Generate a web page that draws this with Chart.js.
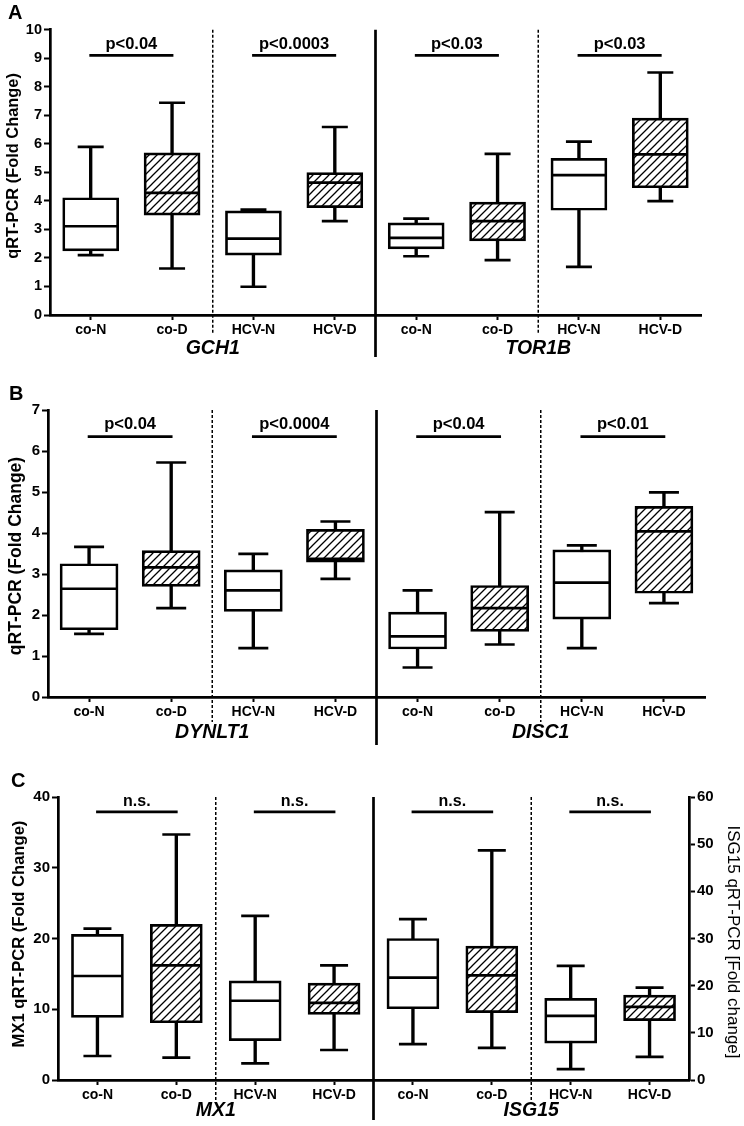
<!DOCTYPE html>
<html>
<head>
<meta charset="utf-8">
<script src="https://cdn.jsdelivr.net/npm/chart.js@4"></script>
<style>
  body { margin: 0; background: #fff; }
  #wrap { position: relative; width: 744px; height: 1126px; background: #fff; }
  canvas { position: absolute; left: 0; }
</style>
</head>
<body>
<div id="wrap">
  <canvas id="cA" width="744" height="362" style="top:0;width:744px;height:362px"></canvas>
  <canvas id="cB" width="744" height="388" style="top:362px;width:744px;height:388px"></canvas>
  <canvas id="cC" width="744" height="376" style="top:750px;width:744px;height:376px"></canvas>
</div>
<script>
// groups on the x axis, repeated for each gene
const groups = ['co-N', 'co-D', 'HCV-N', 'HCV-D'];

// [min, Q1, median, Q3, max] for co-N, co-D, HCV-N, HCV-D
const GCH1 = [[2.10, 2.25, 3.11, 4.11, 5.89], [1.63, 3.50, 4.28, 5.68, 7.44], [0.99, 2.10, 2.68, 3.65, 3.69], [3.29, 3.76, 4.64, 4.99, 6.59]];
const TOR1B = [[2.06, 2.32, 2.70, 3.23, 3.38], [1.92, 2.60, 3.29, 3.96, 5.65], [1.69, 3.67, 4.90, 5.49, 6.08], [3.99, 4.46, 5.63, 6.90, 8.50]];
const DYNLT1 = [[1.54, 1.64, 2.64, 3.25, 3.66], [2.17, 2.70, 3.16, 3.57, 5.72], [1.19, 2.09, 2.60, 3.10, 3.49], [2.88, 3.29, 3.37, 4.09, 4.28]];
const DISC1 = [[0.72, 1.17, 1.48, 2.07, 2.60], [1.28, 1.60, 2.17, 2.72, 4.51], [1.19, 1.90, 2.79, 3.59, 3.70], [2.29, 2.53, 4.04, 4.65, 4.99]];
const MX1 = [[3.39, 8.85, 14.7, 20.6, 21.4], [3.15, 8.09, 16.2, 22.0, 34.7], [2.35, 5.55, 11.2, 14.0, 23.2], [4.24, 9.27, 10.9, 13.7, 16.2]];
const ISG15 = [[7.6, 15.1, 21.7, 30.0, 34.1], [6.8, 14.3, 22.2, 28.4, 48.7], [2.3, 7.8, 13.6, 17.3, 24.2], [4.9, 12.6, 15.5, 18.0, 19.6]];

// significance labels per pair and the height of their bars
const pA = ['p<0.04', 'p<0.0003', 'p<0.03', 'p<0.03'];
const pB = ['p<0.04', 'p<0.0004', 'p<0.04', 'p<0.01'];
const pC = ['n.s.', 'n.s.', 'n.s.', 'n.s.'];
const sigA = 9.1, sigB = 6.35, sigC = 37.9;

const FONT = '"Liberation Sans", Arial, Helvetica, sans-serif';
const LW = 2.7;
Chart.defaults.font.family = FONT;
Chart.defaults.color = '#000';

function hatch(canvasId) {
    let tile = document.createElement('canvas');
    tile.width = 8; tile.height = 8;
    let g = tile.getContext('2d');
    g.fillStyle = '#fff';
    g.fillRect(0, 0, 8, 8);
    g.strokeStyle = '#000';
    g.lineWidth = 1.3;
    g.beginPath();
    g.moveTo(-1, 9); g.lineTo(9, -1);
    g.moveTo(-1, 1); g.lineTo(1, -1);
    g.moveTo(7, 9); g.lineTo(9, 7);
    g.stroke();
    return document.getElementById(canvasId).getContext('2d').createPattern(tile, 'repeat');
}

// datasets for one gene (4 boxes), placed on the left or right half of the axis
function geneSets(stats, right, axis, pattern, box, cap) {
    const pad = v => right ? [null, null, null, null].concat(v) : v.concat([null, null, null, null]);
    const pts = (vals, r) => ({
        type: 'line', data: pad(vals), yAxisID: axis, showLine: false,
        pointStyle: 'line', pointRadius: r, pointHoverRadius: r,
        pointBorderColor: '#000', pointBorderWidth: LW, borderColor: '#000', order: 1
    });
    return [
        { type: 'bar', data: pad(stats.map(s => [s[0], s[4]])), yAxisID: axis, grouped: false,
          barThickness: LW, backgroundColor: '#000', borderWidth: 0, order: 3 },
        { type: 'bar', data: pad(stats.map(s => [s[1], s[3]])), yAxisID: axis, grouped: false,
          barThickness: box, backgroundColor: pad(groups.map((g, i) => i % 2 ? pattern : '#fff')),
          borderColor: '#000', borderWidth: LW, borderSkipped: false, order: 2 },
        pts(stats.map(s => s[2]), box / 2 - 1),
        pts(stats.map(s => s[0]), cap),
        pts(stats.map(s => s[4]), cap)
    ];
}

function sigSet(level) {
    return {
        type: 'line', data: groups.concat(groups).map(() => level), yAxisID: 'y',
        borderColor: '#000', borderWidth: LW, borderCapStyle: 'square', pointRadius: 0,
        segment: { borderColor: c => c.p0DataIndex % 2 ? 'rgba(0,0,0,0)' : '#000' }, order: 0
    };
}

const panelPlugin = {
    id: 'panel',
    afterDraw(chart, args, o) {
        const ctx = chart.ctx, x = chart.scales.x, area = chart.chartArea;
        const edge = i => (x.getPixelForValue(i - 1) + x.getPixelForValue(i)) / 2;
        ctx.save();
        ctx.strokeStyle = '#000';
        ctx.fillStyle = '#000';

        ctx.lineWidth = 1.5;
        ctx.setLineDash([3, 2]);
        [2, 6].forEach(i => {
            ctx.beginPath();
            ctx.moveTo(edge(i), area.top);
            ctx.lineTo(edge(i), area.bottom + o.dashDrop);
            ctx.stroke();
        });
        ctx.setLineDash([]);
        ctx.lineWidth = LW;
        ctx.beginPath();
        ctx.moveTo(edge(4), area.top);
        ctx.lineTo(edge(4), area.bottom + o.solidDrop);
        ctx.stroke();

        ctx.textBaseline = 'alphabetic';
        ctx.textAlign = 'left';
        ctx.font = 'bold 20px ' + FONT;
        ctx.fillText(o.letter, o.letterX, o.letterY);

        ctx.textAlign = 'center';
        ctx.textBaseline = 'middle';
        ctx.font = 'italic bold 19.5px ' + FONT;
        ctx.fillText(o.genes[0], edge(2), area.bottom + o.geneDrop);
        ctx.fillText(o.genes[1], edge(6), area.bottom + o.geneDrop);

        ctx.font = 'bold ' + o.pSize + 'px ' + FONT;
        const py = chart.scales.y.getPixelForValue(o.sig) - o.pGap;
        o.pLabels.forEach((t, k) => {
            const xm = (x.getPixelForValue(2 * k) + x.getPixelForValue(2 * k + 1)) / 2;
            ctx.fillText(t, xm, py);
        });

        o.titles.forEach(t => {
            ctx.save();
            ctx.translate(t.x, t.y);
            ctx.rotate(t.rot);
            ctx.font = t.weight + ' ' + t.size + 'px ' + FONT;
            ctx.fillText(t.text, 0, 0);
            ctx.restore();
        });
        ctx.restore();
    }
};

function yAxis(max, step, size, width, position) {
    return {
        type: 'linear', position: position, min: 0, max: max,
        afterFit: s => { s.width = width; },
        ticks: { stepSize: step, font: { size: size, weight: 'bold' }, color: '#000', padding: 2 },
        grid: { drawOnChartArea: false, drawTicks: true, tickLength: 6, tickWidth: 2, tickColor: '#000' },
        border: { display: true, width: LW, color: '#000' }
    };
}

function makeChart(id, sets, scales, padding, xHeight, xSize, panel) {
    return new Chart(document.getElementById(id), {
        type: 'bar',
        data: { labels: groups.concat(groups), datasets: sets },
        options: {
            responsive: false,
            animation: false,
            events: [],
            layout: { padding: padding },
            plugins: { legend: { display: false }, tooltip: { enabled: false }, panel: panel },
            scales: Object.assign({
                x: {
                    type: 'category', offset: true,
                    afterFit: s => { s.height = xHeight; },
                    ticks: { font: { size: xSize, weight: 'bold' }, color: '#000', padding: 2, maxRotation: 0, autoSkip: false },
                    grid: { offset: false, drawOnChartArea: false, drawTicks: true, tickLength: 5, tickWidth: 2, tickColor: '#000' },
                    border: { display: true, width: LW, color: '#000' }
                }
            }, scales)
        },
        plugins: [panelPlugin]
    });
}

// panel A
const hA = hatch('cA');
let chartA = makeChart('cA',
    geneSets(GCH1, false, 'y', hA, 56, 13).concat(geneSets(TOR1B, true, 'y', hA, 56, 13), [sigSet(sigA)]),
    { y: yAxis(10, 1, 14.5, 50, 'left') },
    { top: 29, right: 43, left: 0, bottom: 0 }, 47, 14,
    { letter: 'A', letterX: 8, letterY: 19, genes: ['GCH1', 'TOR1B'], pLabels: pA, sig: sigA, pSize: 16.5, pGap: 11,
      dashDrop: 18, solidDrop: 42, geneDrop: 34,
      titles: [{ text: 'qRT-PCR (Fold Change)', x: 13, y: 166, rot: -Math.PI / 2, size: 16.4, weight: 'bold' }] });

// panel B
const hB = hatch('cB');
let chartB = makeChart('cB',
    geneSets(DYNLT1, false, 'y', hB, 58, 15).concat(geneSets(DISC1, true, 'y', hB, 58, 15), [sigSet(sigB)]),
    { y: yAxis(7, 1, 15, 48, 'left') },
    { top: 48, right: 39, left: 0, bottom: 0 }, 53, 14,
    { letter: 'B', letterX: 9, letterY: 38, genes: ['DYNLT1', 'DISC1'], pLabels: pB, sig: sigB, pSize: 16.5, pGap: 12,
      dashDrop: 25, solidDrop: 48, geneDrop: 36,
      titles: [{ text: 'qRT-PCR (Fold Change)', x: 16, y: 194, rot: -Math.PI / 2, size: 17.5, weight: 'bold' }] });

// panel C, two y axes
const hC = hatch('cC');
let chartC = makeChart('cC',
    geneSets(MX1, false, 'y', hC, 52, 14).concat(geneSets(ISG15, true, 'y2', hC, 52, 14), [sigSet(sigC)]),
    { y: yAxis(40, 10, 15, 58, 'left'), y2: yAxis(60, 10, 15, 55, 'right') },
    { top: 47, right: 0, left: 0, bottom: 0 }, 46, 14,
    { letter: 'C', letterX: 11, letterY: 37, genes: ['MX1', 'ISG15'], pLabels: pC, sig: sigC, pSize: 16, pGap: 10,
      dashDrop: 22, solidDrop: 40, geneDrop: 31,
      titles: [{ text: 'MX1 qRT-PCR (Fold Change)', x: 19, y: 184, rot: -Math.PI / 2, size: 16.6, weight: 'bold' },
               { text: 'ISG15 qRT-PCR [Fold change]', x: 733, y: 192, rot: Math.PI / 2, size: 17, weight: 'normal' }] });
</script>
</body>
</html>
